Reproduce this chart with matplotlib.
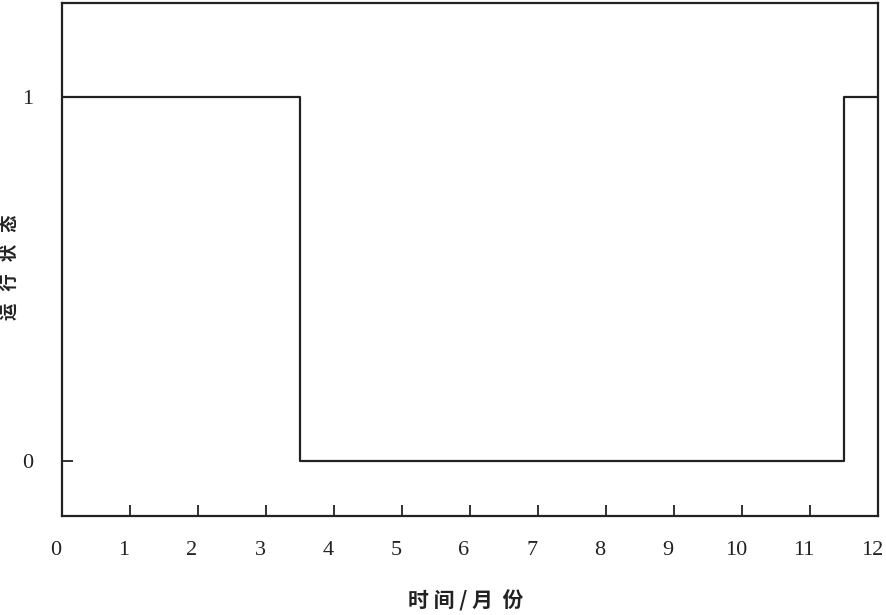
import matplotlib
matplotlib.use("Agg")
import matplotlib.pyplot as plt
from matplotlib.transforms import ScaledTranslation

# 运行状态随月份变化（阶跃）
month_edges = [0, 3.5, 11.5, 12]
state = [1, 0, 1, 1]
x_ticks = list(range(0, 13))
y_ticks = [0, 1]

CJK = ["Noto Sans CJK SC", "DejaVu Sans"]
SERIF = ["Liberation Serif", "DejaVu Serif"]

fig = plt.figure(figsize=(8.87, 6.15), dpi=100)
ax = fig.add_axes([62 / 887, 99 / 615, 816 / 887, 513 / 615])

ax.step(month_edges, state, where="post", color="#222", lw=1.6)

ax.set_xlim(0, 12)
ax.set_ylim(-0.151, 1.258)
ax.set_xticks(x_ticks)
ax.set_yticks(y_ticks)
ax.tick_params(direction="in", length=8, width=1.3, labelsize=16,
               colors="#222", top=False, right=False)
ax.tick_params(axis="x", pad=18)
ax.tick_params(axis="y", pad=21)
# 原图横轴刻度数字整体略偏左
shift = ScaledTranslation(-0.06, 0, fig.dpi_scale_trans)
for lbl in ax.get_xticklabels():
    lbl.set_family(SERIF)
    lbl.set_transform(lbl.get_transform() + shift)
for lbl in ax.get_yticklabels():
    lbl.set_family(SERIF)
for sp in ax.spines.values():
    sp.set_linewidth(1.6)
    sp.set_color("#222")

ax.set_xlabel("时 间 / 月  份", family=CJK, fontsize=15, fontweight="bold", color="#222")
ax.set_ylabel("运   行   状   态", family=CJK, fontsize=12.5, fontweight="bold", color="#222")
ax.xaxis.set_label_coords(0.495, -0.145)
ax.yaxis.set_label_coords(-0.053, 0.485)

fig.savefig("out.png", dpi=100)
